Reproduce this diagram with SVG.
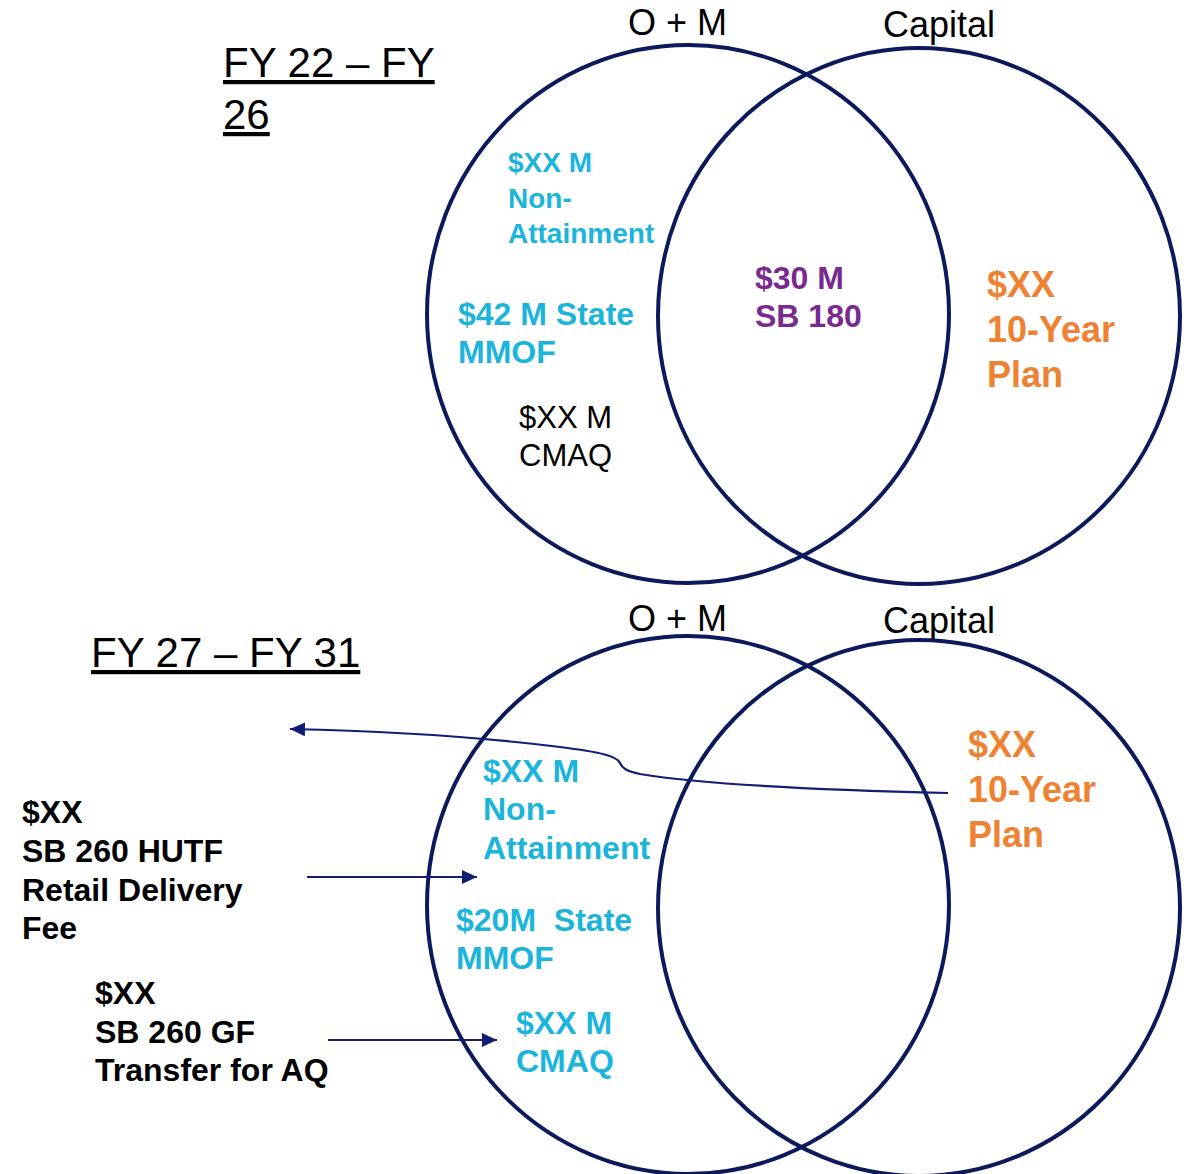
<svg xmlns="http://www.w3.org/2000/svg" width="1186" height="1174" viewBox="0 0 1186 1174">
<defs>
<style>
.circ{fill:none;stroke:#0c1a5c;stroke-width:4}
.hdr{font-family:"Liberation Sans",Arial,sans-serif;font-size:36px;fill:#000}
.fy{font-family:"Liberation Sans",Arial,sans-serif;font-size:42px;fill:#000;text-decoration:underline}
.cy{font-family:"Liberation Sans",Arial,sans-serif;font-weight:bold;font-size:32px;fill:#1bb5dc}
.cy28{font-family:"Liberation Sans",Arial,sans-serif;font-weight:bold;font-size:28px;fill:#1bb5dc}
.pu{font-family:"Liberation Sans",Arial,sans-serif;font-weight:bold;font-size:32px;fill:#7a2a8f}
.or{font-family:"Liberation Sans",Arial,sans-serif;font-weight:bold;font-size:36px;fill:#ef8232}
.bk{font-family:"Liberation Sans",Arial,sans-serif;font-size:31px;fill:#000}
.bb{font-family:"Liberation Sans",Arial,sans-serif;font-weight:bold;font-size:32px;fill:#000}
.conn{fill:none;stroke:#0f1d72;stroke-width:2.2}
</style>
<marker id="ah" markerUnits="userSpaceOnUse" markerWidth="16" markerHeight="14" refX="15" refY="7" orient="auto">
<path d="M0,0 L15,7 L0,14 Z" fill="#0f1d72"/>
</marker>
</defs>
<rect width="1186" height="1174" fill="#fff"/>

<g id="top-labels">
<text class="fy" x="223" y="77">FY 22 – FY</text>
<text class="fy" x="223" y="129">26</text>
<text class="hdr" x="628" y="35">O + M</text>
<text class="hdr" x="883" y="37">Capital</text>
</g>
<g id="top-om-circle"><ellipse class="circ" cx="688" cy="314" rx="261" ry="269"/></g>
<g id="top-capital-circle"><ellipse class="circ" cx="919" cy="316" rx="261" ry="268"/></g>
<g id="top-nonattainment">
<text class="cy28" x="508" y="172">$XX M</text>
<text class="cy28" x="508" y="208">Non-</text>
<text class="cy28" x="508" y="243">Attainment</text>
</g>
<g id="top-mmof">
<text class="cy" x="458" y="325">$42 M State</text>
<text class="cy" x="458" y="363">MMOF</text>
</g>
<g id="top-cmaq">
<text class="bk" x="519" y="428">$XX M</text>
<text class="bk" x="519" y="466">CMAQ</text>
</g>
<g id="top-sb180">
<text class="pu" x="755" y="289">$30 M</text>
<text class="pu" x="755" y="327">SB 180</text>
</g>
<g id="top-plan">
<text class="or" x="987" y="297">$XX</text>
<text class="or" x="987" y="342">10-Year</text>
<text class="or" x="987" y="387">Plan</text>
</g>

<g id="bottom-labels">
<text class="fy" x="91" y="667">FY 27 – FY 31</text>
<text class="hdr" x="628" y="631">O + M</text>
<text class="hdr" x="883" y="633">Capital</text>
</g>
<g id="bottom-om-circle"><ellipse class="circ" cx="688" cy="905" rx="261" ry="269"/></g>
<g id="bottom-capital-circle"><ellipse class="circ" cx="919" cy="908" rx="261" ry="268"/></g>
<g id="bottom-nonattainment">
<text class="cy" x="483" y="782">$XX M</text>
<text class="cy" x="483" y="820">Non-</text>
<text class="cy" x="483" y="859">Attainment</text>
</g>
<g id="bottom-mmof">
<text class="cy" x="456" y="931" xml:space="preserve">$20M  State</text>
<text class="cy" x="456" y="969">MMOF</text>
</g>
<g id="bottom-cmaq">
<text class="cy" x="516" y="1034">$XX M</text>
<text class="cy" x="516" y="1072">CMAQ</text>
</g>
<g id="bottom-plan">
<text class="or" x="968" y="757">$XX</text>
<text class="or" x="968" y="802">10-Year</text>
<text class="or" x="968" y="847">Plan</text>
</g>
<g id="hutf">
<text class="bb" x="22" y="823">$XX</text>
<text class="bb" x="22" y="862">SB 260 HUTF</text>
<text class="bb" x="22" y="901">Retail Delivery</text>
<text class="bb" x="22" y="939">Fee</text>
</g>
<g id="gf">
<text class="bb" x="95" y="1004">$XX</text>
<text class="bb" x="95" y="1043">SB 260 GF</text>
<text class="bb" x="95" y="1081">Transfer for AQ</text>
</g>

<g id="connectors">
<path class="conn" marker-end="url(#ah)" d="M948,793 C820,790 700,784 640,774 C626,771 622,768 620,763 C617,756 600,752 560,747 C480,737 380,731 290,729"/>
<path class="conn" marker-end="url(#ah)" d="M307,877 L477,877"/>
<path class="conn" marker-end="url(#ah)" d="M328,1040 L497,1040"/>
</g>
</svg>
